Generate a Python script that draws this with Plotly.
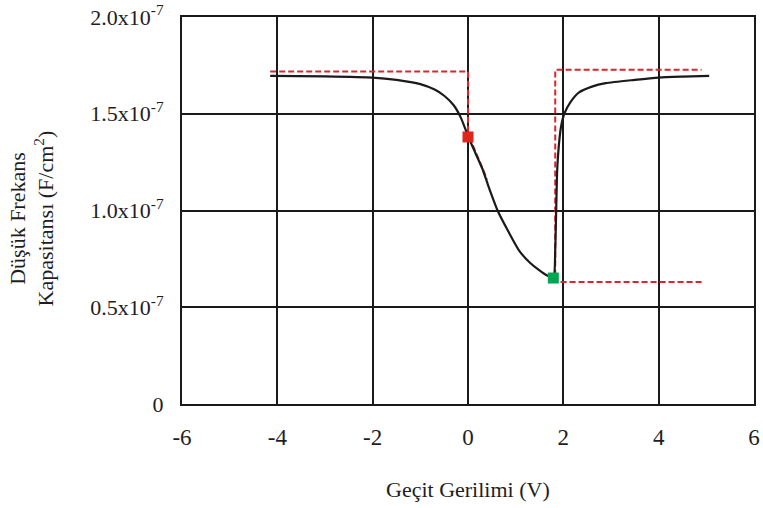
import plotly.graph_objects as go

SCALE = 1e-7
# Main low-frequency capacitance curve (values in units of 1e-7 F/cm^2)
vg = [-4.15, -3.0, -2.0, -1.5, -1.0, -0.7, -0.5, -0.3, -0.15, 0.0, 0.15, 0.3, 0.45, 0.62, 0.85,
      1.08, 1.3, 1.5, 1.65, 1.79, 1.83, 1.85, 1.87, 1.9, 1.95, 2.02, 2.15, 2.33, 2.6, 2.89,
      3.5, 4.0, 4.5, 5.06]
cap = [1.696, 1.693, 1.687, 1.675, 1.653, 1.625, 1.593, 1.544, 1.48, 1.385, 1.30, 1.217, 1.11, 1.0, 0.89,
       0.79, 0.73, 0.69, 0.665, 0.652, 0.80, 1.0, 1.2, 1.32, 1.43, 1.50, 1.56, 1.61, 1.64, 1.658,
       1.675, 1.687, 1.692, 1.696]

# Red dashed guide lines
guide_left_x = [-4.15, 0.0, 0.0]
guide_left_y = [1.718, 1.718, 1.38]
guide_tan_x = [0.03, 0.40]
guide_tan_y = [1.38, 1.16]
guide_right_x = [4.9, 1.83, 1.83, 4.9]
guide_right_y = [0.63, 0.63, 1.727, 1.727]

# Marked points
red_pt = ([0.0], [1.38])
green_pt = ([1.79], [0.651])

x_ticks = [-6, -4, -2, 0, 2, 4, 6]
y_tick_vals = [0, 0.5, 1.0, 1.5, 2.0]
y_tick_text = ["0", "0.5x10<sup>-7</sup>", "1.0x10<sup>-7</sup>", "1.5x10<sup>-7</sup>", "2.0x10<sup>-7</sup>"]

FONT = "Liberation Serif, Times New Roman, serif"
RED = "#d8262a"
TXT = "#1e1e1e"

s = lambda arr: [v * SCALE for v in arr]

fig = go.Figure()
fig.add_trace(go.Scatter(x=guide_left_x, y=s(guide_left_y), mode="lines",
                         line=dict(color=RED, width=2, dash="6px,3px")))
fig.add_trace(go.Scatter(x=guide_tan_x, y=s(guide_tan_y), mode="lines",
                         line=dict(color=RED, width=2, dash="6px,3px")))
fig.add_trace(go.Scatter(x=guide_right_x, y=s(guide_right_y), mode="lines",
                         line=dict(color=RED, width=2, dash="6px,3px")))
fig.add_trace(go.Scatter(x=vg, y=s(cap), mode="lines",
                         line=dict(color="#1a1a1a", width=2.2, shape="spline", smoothing=0.6)))
fig.add_trace(go.Scatter(x=red_pt[0], y=s(red_pt[1]), mode="markers",
                         marker=dict(symbol="square", size=11, color="#e0251b")))
fig.add_trace(go.Scatter(x=green_pt[0], y=s(green_pt[1]), mode="markers",
                         marker=dict(symbol="square", size=11, color="#00a651")))

fig.update_layout(
    width=763, height=508,
    margin=dict(l=182, r=9, t=17, b=104),
    paper_bgcolor="white", plot_bgcolor="white",
    showlegend=False,
    font=dict(family=FONT, size=22, color=TXT),
    xaxis=dict(range=[-6, 6], tickvals=x_ticks, ticktext=[str(t) for t in x_ticks],
               tickfont=dict(family=FONT, size=23, color=TXT), automargin=False,
               showgrid=True, gridcolor="#1a1a1a", gridwidth=2,
               showline=True, linecolor="#1a1a1a", linewidth=2, mirror=True,
               zeroline=False, ticks="", ticklabelstandoff=11),
    yaxis=dict(range=[0, 2.0e-7], tickvals=s(y_tick_vals), ticktext=y_tick_text,
               tickfont=dict(family=FONT, size=22, color=TXT), automargin=False,
               ticklabeloverflow="allow",
               showgrid=True, gridcolor="#1a1a1a", gridwidth=2,
               showline=True, linecolor="#1a1a1a", linewidth=2, mirror=True,
               zeroline=False, ticks="", ticklabelstandoff=12),
)

fig.add_annotation(text="Düşük Frekans<br>Kapasitansı (F/cm<sup>2</sup>)", xref="paper", yref="paper",
                   x=-0.262, y=0.48, xanchor="center", yanchor="middle", textangle=-90,
                   showarrow=False, font=dict(family=FONT, size=22, color=TXT))
fig.add_annotation(text="Geçit Gerilimi (V)", xref="paper", yref="paper",
                   x=0.5, y=-0.183, xanchor="center", yanchor="top",
                   showarrow=False, font=dict(family=FONT, size=22, color=TXT))

fig.write_html("out.html")
